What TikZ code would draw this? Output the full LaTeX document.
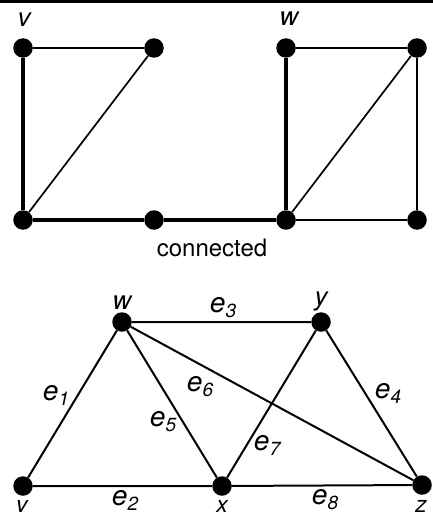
\documentclass[tikz,border=0pt]{standalone}
\usepackage{fontspec}
\setmainfont{TeX Gyre Heros}

\newcommand{\esub}[1]{e\raisebox{-0.2em}{\fontsize{19}{21}\selectfont#1}}

\begin{document}
\begin{tikzpicture}[x=1pt, y=-1pt,
  vert/.style={circle, fill=black, inner sep=0pt, minimum size=19.5pt},
  thinedge/.style={line width=1.7pt},
  thickedge/.style={line width=3.6pt},
  edgeline/.style={line width=2pt},
  vertlbl/.style={font=\fontsize{26}{30}\selectfont\itshape, anchor=base, inner sep=0pt},
  edgelbl/.style={font=\fontsize{28}{32}\selectfont\itshape, anchor=base, inner sep=0pt}]

  \useasboundingbox (0,0) rectangle (433,516);
  \fill[black] (0,0) rectangle (433,3);

  \def\ytop{48}
  \def\ybot{220}

  % connected graph, path from v to w in bold
  \node[vert] (tv)  at (23,\ytop)  {};
  \node[vert] (ta)  at (154,\ytop) {};
  \node[vert] (tb)  at (23,\ybot)  {};
  \node[vert] (tc)  at (154,\ybot) {};
  \node[vert] (td)  at (286,\ybot) {};
  \node[vert] (tw)  at (286,\ytop) {};
  \node[vert] (te)  at (417,\ytop) {};
  \node[vert] (tf)  at (417,\ybot) {};

  \draw[thinedge] (tv) -- (ta) -- (tb);
  \draw[thinedge] (tw) -- (te) -- (tf) -- (td) -- (te);
  \draw[thickedge] (tv) -- (tb) -- (tc) -- (td) -- (tw);

  \node[vertlbl] (lblTv) at (24,27)  {v};
  \node[vertlbl] (lblTw) at (289,26) {w};
  \node[font=\fontsize{24}{28}\selectfont, anchor=base] (lblConn) at (212,256) {connected};

  % graph with labelled edges
  \node[vert] (v) at (23,486)  {};
  \node[vert] (w) at (122,322) {};
  \node[vert] (y) at (321,322) {};
  \node[vert] (x) at (222,486) {};
  \node[vert] (z) at (422,485) {};

  \draw[edgeline] (v) -- (w) -- (y) -- (z) -- (x) -- (v);
  \draw[edgeline] (w) -- (x) -- (y);
  \draw[edgeline] (w) -- (z);

  \node[vertlbl] (lblw) at (122,309) {w};
  \node[vertlbl] (lbly) at (321,305) {y};
  \node[vertlbl, font=\fontsize{23}{27}\selectfont\itshape] (lblv) at (22,512)  {v};
  \node[vertlbl, font=\fontsize{23}{27}\selectfont\itshape] (lblx) at (222,512) {x};
  \node[vertlbl, font=\fontsize{23}{27}\selectfont\itshape] (lblz) at (421,512) {z};

  \node[edgelbl] (lble1) at (56,400)  {\esub{1}};
  \node[edgelbl] (lble2) at (125,505) {\esub{2}};
  \node[edgelbl] (lble3) at (223,312) {\esub{3}};
  \node[edgelbl] (lble4) at (388,398) {\esub{4}};
  \node[edgelbl] (lble5) at (163,426) {\esub{5}};
  \node[edgelbl] (lble6) at (200,391) {\esub{6}};
  \node[edgelbl] (lble7) at (267,450) {\esub{7}};
  \node[edgelbl] (lble8) at (325,504) {\esub{8}};

\end{tikzpicture}
\end{document}
